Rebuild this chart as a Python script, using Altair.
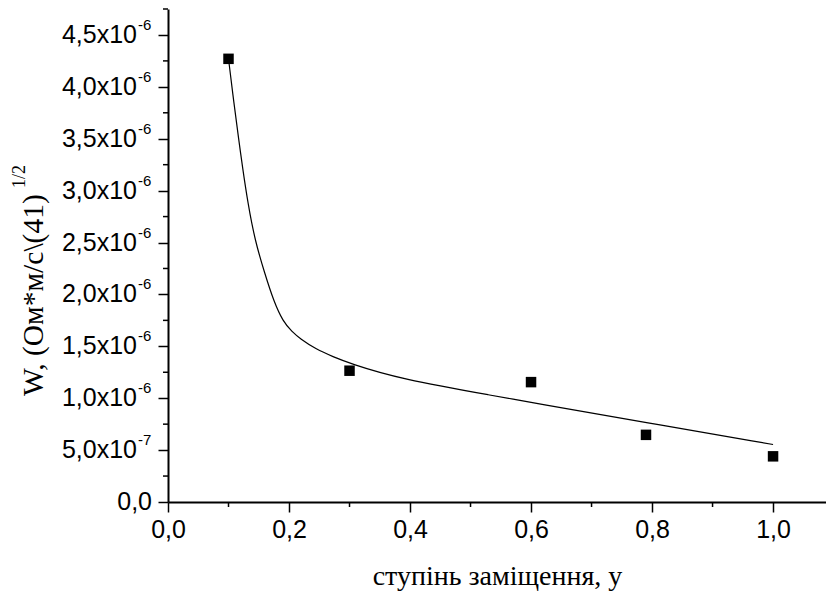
import altair as alt
import pandas as pd

# measured points
pts_x = [0.10, 0.30, 0.60, 0.79, 1.00]
pts_y = [4.27e-6, 1.265e-6, 1.155e-6, 0.647e-6, 0.44e-6]

# fitted curve
fit_x = [0.100, 0.109, 0.1167, 0.1233, 0.132, 0.1437, 0.160, 0.175, 0.190,
         0.205, 0.218, 0.245, 0.273, 0.300, 0.383, 0.548, 0.600, 0.790, 1.000]
fit_y = [4.27e-6, 3.84e-6, 3.50e-6, 3.22e-6, 2.88e-6, 2.52e-6, 2.20e-6, 1.93e-6,
         1.74e-6, 1.64e-6, 1.575e-6, 1.47e-6, 1.40e-6, 1.336e-6, 1.185e-6,
         1.014e-6, 0.96e-6, 0.765e-6, 0.554e-6]

# axis ticks and labels
y_tick_vals = [0.0, 0.5e-6, 1.0e-6, 1.5e-6, 2.0e-6, 2.5e-6, 3.0e-6, 3.5e-6, 4.0e-6, 4.5e-6]
y_tick_main = ["0,0", "5,0x10", "1,0x10", "1,5x10", "2,0x10", "2,5x10",
               "3,0x10", "3,5x10", "4,0x10", "4,5x10"]
y_tick_exp = ["", "-7", "-6", "-6", "-6", "-6", "-6", "-6", "-6", "-6"]
y_minor = [0.25e-6, 0.75e-6, 1.25e-6, 1.75e-6, 2.25e-6, 2.75e-6, 3.25e-6,
           3.75e-6, 4.25e-6, 4.75e-6]
x_tick_vals = [0.0, 0.2, 0.4, 0.6, 0.8, 1.0]
x_minor = [0.1, 0.3, 0.5, 0.7, 0.9]

x_title = "ступінь заміщення, у"
y_title = "W, (Ом*м/с\\(41)"
y_title_sup = "1/2"

W, H = 658, 493
XDOM = [0, 1.0875]
YDOM = [0, 4.75e-6]
SANS = "'Liberation Sans', Arial, sans-serif"
SERIF = "'Liberation Serif', 'Times New Roman', serif"


def X(field, axis=None):
    kw = {}
    if axis is not None:
        kw["axis"] = axis
    return alt.X(field, type="quantitative",
                 scale=alt.Scale(domain=XDOM, nice=False, zero=False), **kw)


def Y(field, axis=None):
    kw = {}
    if axis is not None:
        kw["axis"] = axis
    return alt.Y(field, type="quantitative",
                 scale=alt.Scale(domain=YDOM, nice=False, zero=False), **kw)


pts = pd.DataFrame({"x": pts_x, "y": pts_y})
fit = pd.DataFrame({"x": fit_x, "y": fit_y})
yt = pd.DataFrame({"v": y_tick_vals, "main": y_tick_main, "exp": y_tick_exp})
ym = pd.DataFrame({"m": y_minor})
xm = pd.DataFrame({"m": x_minor})

x_axis = alt.Axis(
    values=x_tick_vals, format=".1f",
    labelExpr="replace(datum.label, '.', ',')",
    tickSize=10, tickWidth=1.5, tickColor="black",
    domainWidth=2, domainColor="black",
    labelFont=SANS, labelFontSize=25, labelColor="black", labelPadding=5,
    labelFlush=False, grid=False,
    title=x_title, titleFont=SERIF, titleFontSize=28, titleFontWeight="normal",
    titleColor="black", titleY=82, titleBaseline="alphabetic",
)
y_axis = alt.Axis(
    values=y_tick_vals, labels=False,
    tickSize=10, tickWidth=1.5, tickColor="black",
    domainWidth=2, domainColor="black", grid=False, title="",
)

curve = alt.Chart(fit).mark_line(color="black", strokeWidth=1.2,
                                 interpolate="basis").encode(
    x=X("x", x_axis), y=Y("y", y_axis), order="x:Q")

points = alt.Chart(pts).mark_point(shape="square", filled=True, size=110,
                                   color="black", opacity=1).encode(
    x=X("x"), y=Y("y"))

x_minor_ticks = alt.Chart(xm).mark_rule(color="black", strokeWidth=1.5).encode(
    x=X("m"), y=alt.value(H), y2=alt.value(H + 5))
y_minor_ticks = alt.Chart(ym).mark_rule(color="black", strokeWidth=1.5).encode(
    y=Y("m"), x=alt.value(0), x2=alt.value(-5))

ylab_main = alt.Chart(yt).transform_filter("datum.exp != ''").mark_text(
    align="right", baseline="middle", font=SANS, fontSize=25, color="black").encode(
    y=Y("v"), x=alt.value(-31), text="main:N")
ylab_zero = alt.Chart(yt).transform_filter("datum.exp == ''").mark_text(
    align="right", baseline="middle", font=SANS, fontSize=25, color="black").encode(
    y=Y("v"), x=alt.value(-16), text="main:N")
ylab_exp = alt.Chart(yt).transform_filter("datum.exp != ''").mark_text(
    align="left", baseline="middle", font=SANS, fontSize=15, color="black",
    dy=-10).encode(
    y=Y("v"), x=alt.value(-30), text="exp:N")

ytitle = alt.Chart(pd.DataFrame({"t": [y_title]})).mark_text(
    angle=270, align="left", baseline="alphabetic", font=SERIF, fontSize=29.5,
    color="black").encode(x=alt.value(-125), y=alt.value(387), text="t:N")
ytitle_sup = alt.Chart(pd.DataFrame({"t": [y_title_sup]})).mark_text(
    angle=270, align="left", baseline="alphabetic", font=SERIF, fontSize=18,
    color="black").encode(x=alt.value(-143), y=alt.value(179), text="t:N")

chart = alt.layer(
    curve, points, x_minor_ticks, y_minor_ticks,
    ylab_main, ylab_zero, ylab_exp, ytitle, ytitle_sup,
).properties(
    width=W, height=H,
    autosize=alt.AutoSizeParams(type="none"),
    padding={"left": 168, "top": 9, "right": 0, "bottom": 90},
    background="white",
).configure_view(stroke=None)

chart.save("out.html", embed_options={"renderer": "svg", "actions": False})
